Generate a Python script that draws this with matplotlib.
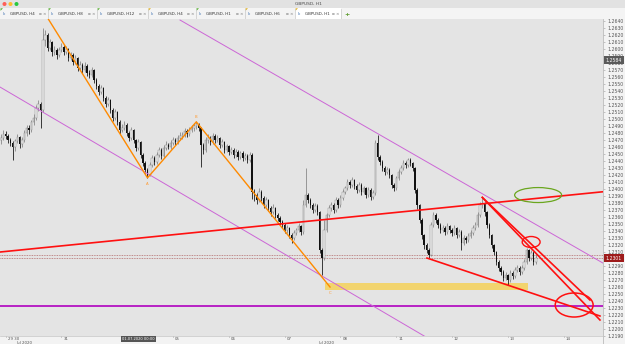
import matplotlib.pyplot as plt
from matplotlib.patches import Rectangle, Ellipse, Circle, Polygon
import numpy as np

# GBPUSD H1 candles, prices in points above 1.2000 (1 point = 0.0001)
first_open_pts = 470
close_pts = [
    473, 479, 476, 470, 466, 460, 469, 474, 464, 470, 480, 487, 484, 496, 501, 516, 521, 513, 613, 620,
    601, 610, 596, 599, 591, 599, 603, 596, 600, 587, 591, 581, 587, 573, 577, 570, 576, 566, 563, 570,
    556, 547, 539, 544, 530, 521, 527, 513, 501, 510, 496, 484, 487, 491, 480, 473, 484, 470, 459, 467,
    449, 437, 427, 420, 434, 444, 439, 449, 456, 447, 459, 463, 460, 466, 470, 467, 473, 476, 477, 483,
    479, 484, 487, 490, 493, 487, 463, 456, 470, 473, 467, 476, 470, 473, 463, 467, 456, 461, 453, 456,
    449, 453, 446, 451, 444, 447, 441, 449, 396, 391, 384, 396, 387, 377, 384, 373, 367, 373, 363, 359,
    353, 349, 341, 344, 334, 330, 337, 341, 347, 339, 377, 391, 384, 377, 370, 376, 367, 313, 301, 341,
    363, 373, 377, 370, 384, 377, 387, 396, 401, 410, 406, 413, 404, 399, 406, 396, 401, 391, 399, 389,
    394, 466, 446, 439, 430, 424, 427, 420, 406, 401, 416, 424, 430, 437, 434, 441, 437, 430, 399, 377,
    356, 334, 320, 313, 306, 349, 363, 356, 349, 341, 344, 339, 347, 341, 337, 344, 334, 339, 323, 330,
    327, 333, 337, 344, 349, 363, 377, 380, 367, 349, 334, 320, 310, 296, 287, 281, 273, 277, 270, 280,
    276, 284, 287, 281, 287, 296, 313, 301, 309, 296, 301,
]
high_pts = [
    478, 484, 483, 479, 473, 469, 472, 479, 476, 474, 484, 492, 491, 499, 507, 520, 527, 524, 630, 627,
    623, 615, 612, 604, 601, 603, 609, 606, 605, 602, 596, 594, 592, 589, 583, 580, 581, 578, 570, 575,
    572, 559, 550, 549, 546, 533, 531, 529, 516, 514, 512, 499, 493, 497, 494, 483, 488, 486, 472, 471,
    469, 451, 440, 430, 438, 449, 447, 453, 460, 458, 463, 468, 466, 470, 475, 473, 477, 481, 482, 487,
    486, 488, 491, 494, 497, 495, 489, 466, 474, 478, 476, 480, 479, 477, 475, 471, 469, 465, 463, 460,
    459, 457, 456, 455, 454, 451, 450, 453, 451, 400, 395, 401, 399, 390, 389, 386, 376, 378, 375, 366,
    362, 356, 352, 349, 346, 337, 341, 345, 351, 349, 384, 430, 394, 387, 380, 380, 378, 369, 316, 356,
    366, 377, 381, 380, 388, 387, 391, 400, 405, 414, 413, 417, 415, 407, 410, 408, 405, 403, 403, 401,
    398, 470, 477, 449, 442, 433, 431, 430, 422, 409, 419, 428, 434, 441, 440, 445, 444, 439, 432, 401,
    379, 358, 336, 323, 316, 353, 367, 366, 359, 352, 348, 347, 351, 349, 344, 348, 346, 343, 341, 334,
    333, 337, 341, 348, 353, 367, 381, 389, 382, 369, 351, 336, 322, 312, 298, 290, 284, 281, 279, 284,
    283, 288, 291, 290, 291, 300, 316, 315, 313, 311, 307,
]
low_pts = [
    465, 470, 472, 466, 461, 441, 455, 466, 459, 460, 467, 476, 479, 481, 492, 498, 511, 487, 510, 605,
    597, 598, 590, 592, 586, 588, 596, 592, 593, 583, 584, 577, 578, 569, 570, 566, 567, 562, 558, 560,
    551, 543, 534, 536, 526, 517, 518, 508, 497, 498, 492, 479, 481, 484, 476, 468, 470, 466, 454, 456,
    445, 433, 423, 416, 418, 431, 435, 436, 446, 443, 445, 456, 457, 457, 463, 463, 464, 470, 472, 474,
    475, 476, 481, 483, 486, 483, 431, 450, 453, 466, 463, 464, 466, 467, 459, 460, 452, 453, 449, 450,
    445, 446, 442, 443, 440, 441, 437, 438, 386, 383, 379, 381, 383, 373, 374, 369, 362, 364, 359, 354,
    349, 344, 337, 337, 330, 323, 327, 334, 338, 335, 336, 374, 380, 373, 366, 367, 363, 309, 277, 298,
    338, 360, 369, 366, 367, 373, 374, 384, 393, 398, 402, 403, 400, 395, 396, 392, 393, 387, 388, 385,
    386, 391, 442, 435, 426, 420, 421, 416, 402, 397, 399, 413, 421, 427, 430, 431, 433, 426, 395, 372,
    351, 329, 315, 308, 301, 304, 346, 352, 345, 337, 338, 335, 336, 337, 333, 334, 330, 331, 313, 320,
    323, 324, 330, 334, 341, 346, 360, 373, 362, 345, 330, 316, 306, 292, 283, 277, 269, 270, 263, 267,
    272, 273, 281, 277, 278, 284, 293, 297, 298, 292, 293,
]
bid_pts, ask_pts = 301, 306

# drawn objects (candle index, points)
orange_wave_i = [19, 63, 84, 141.5]
orange_wave_p = [650, 416, 496, 260]
orange_wave_txt = ['', 'A', 'B', 'C']
violet_low_i, violet_low_p = [-0.43, 200], [545.7, 154.9]
violet_up_i, violet_up_p = [77, 259], [641.4, 294]
red_base_i, red_base_p = [-0.43, 258.9], [310, 396.1]
red_fan_i, red_fan_p = [207, 253.3, 207, 257.6], [388, 241.4, 388, 212.9]
red_low_i, red_low_p = [183.2, 257.6], [301.4, 218.6]
purple_level = 233
zone_i, zone_p = [139.4, 226.7], [255.7, 265.7]

day_idx = [2, 26, 74, 98, 122, 146, 170, 194, 218, 242]
day_lbl = ['29 30', '31', '05', '06', '07', '08', '11', '12', '13', '14']
month_idx = [10, 140]
month_lbl = ['Jul 2020', 'Jul 2020']

tabs = ['GBPUSD, H4', 'GBPUSD, H8', 'GBPUSD, H12', 'GBPUSD, H4', 'GBPUSD, H1', 'GBPUSD, H6', 'GBPUSD, H1']
tab_x = [0, 48, 97, 148, 196, 245, 295, 341]


def price(p):
    return 1.2 + np.asarray(p, dtype=float) / 1e4


W, H = 625, 344
fig = plt.figure(figsize=(W / 100, H / 100), dpi=100)
fig.patch.set_facecolor('#f3f3f3')

# ---- main chart
ax = fig.add_axes([0, 0, 603 / W, (H - 19) / H])
ax.set_facecolor('#e4e4e4')
for s in ax.spines.values():
    s.set_visible(False)
ax.spines['right'].set_visible(True)
ax.spines['right'].set_color('#bcbcbc')
ax.spines['right'].set_linewidth(0.6)
ax.set_xticks([])
ax.yaxis.tick_right()
yt = price(np.arange(190, 645, 10))
ax.set_yticks(yt)
ax.set_yticklabels([f'{v:.4f}' for v in yt])
ax.tick_params(axis='y', length=1.5, width=0.4, color='#9a9a9a', labelsize=3.3,
               labelcolor='#555555', pad=1.5)

c = price(close_pts)
o = np.r_[price(first_open_pts), c[:-1]]
hi = np.maximum(price(high_pts), np.maximum(o, c))
lo = np.minimum(price(low_pts), np.minimum(o, c))
x = np.arange(len(c))
up = c >= o

ax.vlines(x[up], lo[up], hi[up], color='#8a8a8a', lw=0.6, zorder=2)
ax.vlines(x[~up], lo[~up], hi[~up], color='#1c1c1c', lw=0.6, zorder=2)
ax.bar(x[up], np.maximum(c[up] - o[up], 0.00003), bottom=o[up], width=0.62,
       color='#f2f2f2', edgecolor='#8a8a8a', linewidth=0.35, zorder=2.1)
ax.bar(x[~up], np.maximum(o[~up] - c[~up], 0.00003), bottom=c[~up], width=0.62,
       color='#111111', linewidth=0, zorder=2.1)

# zone and levels
ax.add_patch(Rectangle((zone_i[0], price(zone_p[0])), zone_i[1] - zone_i[0],
                       price(zone_p[1]) - price(zone_p[0]), color='#f2d46e', lw=0, zorder=1.5))
ax.axhline(price(purple_level), color='#b000bf', lw=1.2, zorder=3)
ax.axhline(price(bid_pts), color='#b36b6b', lw=0.6, ls=(0, (1, 1)), zorder=1.8)
ax.axhline(price(ask_pts), color='#b36b6b', lw=0.6, ls=(0, (1, 1)), zorder=1.8)

# trend lines
ax.plot(violet_low_i, price(violet_low_p), color='#cc66d6', lw=0.7, zorder=3)
ax.plot(violet_up_i, price(violet_up_p), color='#cc66d6', lw=0.7, zorder=3)
ax.plot(orange_wave_i, price(orange_wave_p), color='#ff8a00', lw=1.0, zorder=3.2)
for xi, pv, t in zip(orange_wave_i[1:], orange_wave_p[1:], orange_wave_txt[1:]):
    dy = 0.0007 if t == 'B' else -0.0009
    ax.text(xi, price(pv) + dy, t, color='#ff9a30', fontsize=2.8, ha='center', va='center', zorder=4)
ax.plot(red_base_i, price(red_base_p), color='#ff1010', lw=1.2, zorder=3.3)
ax.plot(red_fan_i[:2], price(red_fan_p[:2]), color='#ff1010', lw=1.2, zorder=3.3)
ax.plot(red_fan_i[2:], price(red_fan_p[2:]), color='#ff1010', lw=1.2, zorder=3.3)
ax.plot(red_low_i, price(red_low_p), color='#ff1010', lw=1.2, zorder=3.3)

# hand-drawn marks
ax.add_patch(Ellipse((231, price(391.4)), 20.2, 0.00214, fill=False, ec='#6aa61e', lw=0.9, zorder=4))
ax.add_patch(Ellipse((228, price(324.3)), 7.7, 0.00157, fill=False, ec='#ff1010', lw=1.0, zorder=4))
ax.add_patch(Ellipse((246.5, price(234.3)), 16.3, 0.00343, fill=False, ec='#ff1010', lw=1.1, zorder=4))

ax.set_xlim(-0.43, 258.9)
ax.set_ylim(price(178.6), price(642.9))

# price tags
ax.annotate(f'{price(bid_pts):.4f}', (1.0, price(bid_pts)), xycoords=('axes fraction', 'data'),
            xytext=(2, 0), textcoords='offset points', fontsize=3.3, color='white', va='center',
            bbox=dict(boxstyle='square,pad=0.35', fc='#9e1b1b', ec='none'), annotation_clip=False)
ax.annotate('1.2584', (1.0, price(584.3)), xycoords=('axes fraction', 'data'),
            xytext=(2, 0), textcoords='offset points', fontsize=3.3, color='white', va='center',
            bbox=dict(boxstyle='square,pad=0.35', fc='#5a5a5a', ec='none'), annotation_clip=False)

# ---- time strip
sx = fig.add_axes([0, 0, 603 / W, 8 / H])
sx.set_facecolor('#f3f3f3')
sx.set_xlim(ax.get_xlim())
sx.set_ylim(0, 1)
sx.set_xticks([])
sx.set_yticks([])
for s in sx.spines.values():
    s.set_visible(False)
sx.spines['top'].set_visible(True)
sx.spines['top'].set_color('#c4c4c4')
sx.spines['top'].set_linewidth(0.5)
for xi, t in zip(day_idx, day_lbl):
    sx.plot([xi, xi], [0.85, 1], color='#999999', lw=0.4)
    sx.text(xi + 0.8, 0.62, t, fontsize=2.8, color='#555555', va='center')
for xi, t in zip(month_idx, month_lbl):
    sx.text(xi, 0.15, t, fontsize=2.8, color='#555555', va='center', ha='center')
sx.text(50 + 2, 0.62, '01.07.2020 00:00', fontsize=2.6, color='white', va='center',
        bbox=dict(boxstyle='square,pad=0.3', fc='#555555', ec='none'))

# ---- window title bar and tabs (pixel coords)
tb = fig.add_axes([0, 1 - 19 / H, 1, 19 / H])
tb.set_xlim(0, W)
tb.set_ylim(19, 0)
tb.axis('off')
tb.add_patch(Rectangle((0, 0), W, 8, color='#e2e2e2', lw=0))
tb.add_patch(Rectangle((0, 8), W, 11, color='#f4f4f4', lw=0))
tb.plot([0, W], [18.8, 18.8], color='#c2c2c2', lw=0.6)
for cx, col in zip([4.5, 10.5, 16.5], ['#fe5f57', '#febc2e', '#28c840']):
    tb.add_patch(Circle((cx, 4), 2.0, color=col, lw=0))
tb.text(308, 4.2, 'GBPUSD, H1', fontsize=3.2, color='#4a4a4a', ha='center', va='center')
marks = ['#55b030', '#55b030', '#55b030', '#e0b020', '#55b030', '#e0b020', '#e0b020']
for k, t in enumerate(tabs):
    x0, x1 = tab_x[k], tab_x[k + 1]
    if k == len(tabs) - 1:
        tb.add_patch(Rectangle((x0, 8), x1 - x0, 11, color='white', lw=0))
    tb.plot([x1, x1], [8.5, 18.5], color='#c8c8c8', lw=0.5)
    tb.add_patch(Polygon([[x0 + 0.5, 8.3], [x0 + 3, 8.3], [x0 + 0.5, 10.8]], color=marks[k], lw=0))
    tb.text(x0 + 3, 14, 'ılı', fontsize=3, color='#3a6fb0', va='center')
    tb.text(x0 + 10, 14, t, fontsize=2.9, color='#333333', va='center')
    tb.text(x1 - 9, 14, '▫ ×', fontsize=3, color='#777777', va='center')
tb.text(347, 14, '+', fontsize=4.5, color='#5a9a2a', va='center', ha='center', fontweight='bold')

fig.savefig('out.png', dpi=100, facecolor=fig.get_facecolor())
